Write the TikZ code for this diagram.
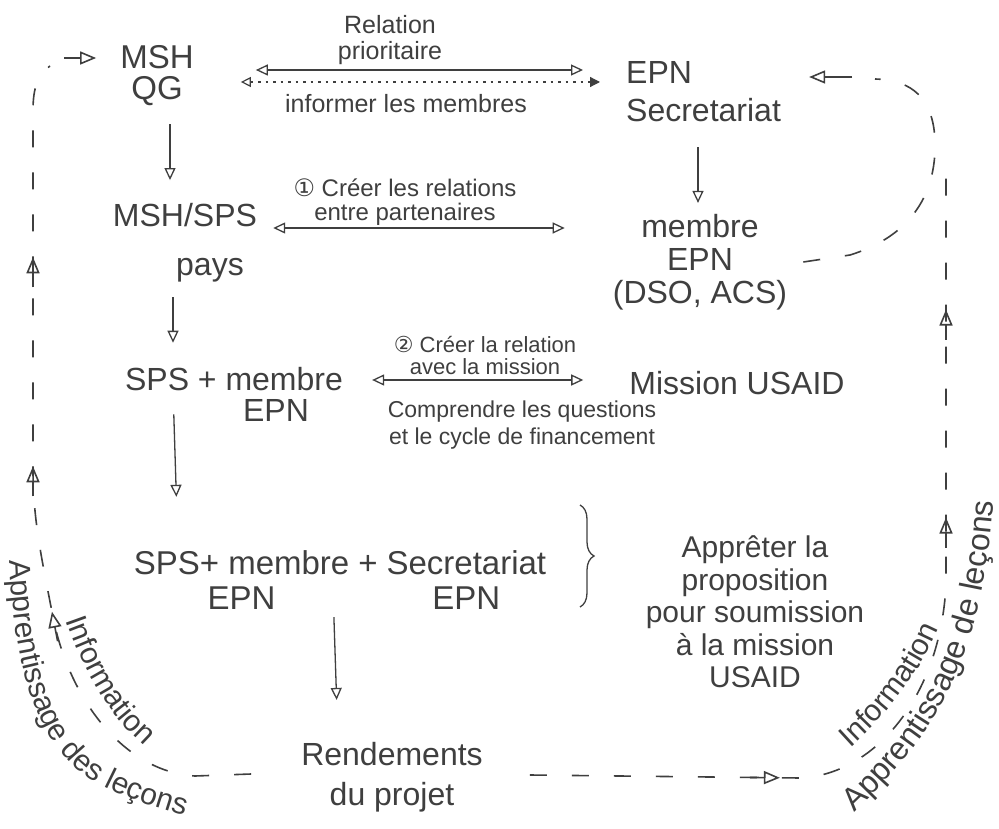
\documentclass[tikz,border=0pt]{standalone}
\usepackage{fontspec}
\setmainfont{Liberation Sans}
\newfontfamily\circfont{DejaVu Sans}
\usetikzlibrary{arrows.meta,calc,decorations.text,decorations.markings,decorations.pathreplacing}
\definecolor{ink}{HTML}{3F3F3F}
\tikzset{
  bigtxt/.style={text=ink,font=\fontsize{32}{34}\selectfont,align=center,inner sep=0pt},
  midtxt/.style={text=ink,font=\fontsize{25}{26}\selectfont,align=center,inner sep=0pt},
  smalltxt/.style={text=ink,font=\fontsize{22}{22}\selectfont,align=center,inner sep=0pt},
  onearrow/.style={draw=ink,line width=1.3pt,-{Triangle[open,length=12pt,width=11pt]}},
  twoarrow/.style={draw=ink,line width=1.3pt,{Triangle[open,length=12pt,width=11pt]}-{Triangle[open,length=12pt,width=11pt]}},
  dotarrow/.style={draw=ink,line width=1.2pt,dash pattern=on 2.5pt off 5pt,{Triangle[open,length=10pt,width=10pt]}-{Triangle[length=10pt,width=10pt]}},
  loopline/.style={draw=ink,line width=1.6pt,dash pattern=on 17pt off 25pt},
  loopstem/.style={draw=ink,line width=1.6pt,-{Triangle[open,length=16pt,width=13pt]}},
  midtip/.style={postaction={decorate,decoration={markings,mark=at position #1 with {\draw[solid,draw=ink,line width=1.6pt] (-30pt,0pt) -- (-15pt,0pt); \arrow[ink,line width=1.6pt]{Triangle[open,length=16pt,width=13pt]}}}}},
  curvetext/.style={decorate,decoration={text along path,text color=ink,text align=left,text={#1}}},
}
\begin{document}
\begin{tikzpicture}[x=1pt,y=-1pt]
\fill[white] (0,0) rectangle (999,829);
\useasboundingbox (0,0) rectangle (999,829);

% main nodes
\node[bigtxt,font=\fontsize{33}{31}\selectfont] (msh) at (157,76) {MSH\\QG};
\node[bigtxt] (mshsps) at (185,215) {MSH/SPS};
\node[bigtxt] (pays) at (210,270) {pays};
\node[bigtxt,font=\fontsize{32}{31}\selectfont] (spsm) at (234,394) {SPS + membre\\\hspace*{84pt}EPN};
\node[bigtxt,font=\fontsize{33}{35}\selectfont] (final) at (340,585) {\begin{tabular}{@{}c@{}c@{}c@{}}SPS+ membre & \hspace*{9pt}+\hspace*{9pt} & Secretariat\\ EPN & & EPN\end{tabular}};
\node[bigtxt,font=\fontsize{32}{40}\selectfont] (rend) at (392,777) {Rendements\\du projet};
\node[bigtxt,font=\fontsize{32}{38}\selectfont,align=left,anchor=west] (epn) at (626,92) {EPN\\Secretariat};
\node[bigtxt,font=\fontsize{32}{33}\selectfont] (membre) at (700,262) {membre\\EPN\\(DSO, ACS)};
\node[bigtxt] (mission) at (737,383) {Mission USAID};
\node[bigtxt,font=\fontsize{30}{32.5}\selectfont] (appr) at (755,612) {Apprêter la\\proposition\\pour soumission\\à la mission\\USAID};

% labels
\node[midtxt] (lrel) at (390,40) {Relation\\prioritaire};
\node[midtxt] (linf) at (406,104) {informer les membres};
\node[midtxt,font=\fontsize{24}{24}\selectfont] (lc1) at (405,202) {{\circfont ①} Créer les relations\\entre partenaires};
\node[smalltxt] (lc2) at (485,355) {{\circfont ②} Créer la relation\\avec la mission};
\node[smalltxt,font=\fontsize{23}{27}\selectfont] (lcomp) at (522,425) {Comprendre les questions\\et le cycle de financement};

% brace
\coordinate (bt) at (580,505);
\coordinate (bb) at (580,607);
\draw[ink,line width=1.3pt,decorate,decoration={brace,amplitude=14pt}] (bt) -- (bb);

% horizontal links
\draw[twoarrow,shorten <=62pt,shorten >=43pt] (msh.east |- 0,70) -- (epn.west |- 0,70);
\draw[dotarrow,shorten <=47pt,shorten >=26pt] (msh.east |- 0,82) -- (epn.west |- 0,82);
\draw[twoarrow,shorten <=16pt,shorten >=48pt] (mshsps.east |- 0,228) -- (membre.west |- 0,228);
\draw[twoarrow,shorten <=29pt,shorten >=46pt] (spsm.east |- 0,380) -- (mission.west |- 0,380);

% vertical links
\draw[onearrow,shorten <=18pt,shorten >=23pt] (msh.south -| 170,0) -- (mshsps.north -| 170,0);
\draw[onearrow,shorten <=25pt,shorten >=11pt] (epn.south -| 698,0) -- (membre.north -| 698,0);
\draw[onearrow,shorten <=15pt,shorten >=24pt] (pays.south -| 173,0) -- (spsm.north -| 173,0);
\draw[onearrow,shorten <=-7pt,shorten >=53pt] (spsm.south -| 174,0) -- (final.north -| 178,0);
\draw[onearrow,shorten <=-3pt,shorten >=42pt] (final.south -| 334,0) -- (rend.north -| 338,0);

% feedback loops
\coordinate (lstem) at (64,58);
\coordinate (tstem) at (852,77);
\coordinate (rtop) at (946,172);
\draw[loopline,midtip=290pt,midtip=437pt,midtip=646pt]
  ($(rend.west)+(-50,-3)$) -- (195,776) .. controls (125,772) and (68,700) .. (52,612)
  .. controls (42,560) and (33,520) .. (33,470) -- (33,110)
  .. controls (33,88) and (38,74) .. (50,66);
\draw[loopstem,shorten >=24pt] (lstem) -- (msh.west |- lstem);
\draw[loopline,midtip=250pt,midtip=602pt,midtip=810pt]
  ($(rend.east)+(47,-2)$) -- (800,778) .. controls (872,775) and (940,700) .. (946,585) -- (rtop);
\draw[loopline]
  ($(membre.east)+(16,0)$) -- (850,255) .. controls (905,238) and (937,200) .. (935,140)
  .. controls (933,98) and (912,80) .. (875,79);
\draw[loopstem,shorten >=28pt] (tstem) -- (epn.east |- tstem);

% curved texts
\path[curvetext={|\fontsize{30}{30}\selectfont|Apprentissage des leçons}]
  (10,560) .. controls (14,680) and (42,748) .. (92,780) .. controls (132,802) and (172,814) .. (240,830);
\path[curvetext={|\fontsize{30}{30}\selectfont|Information}]
  (66,620) .. controls (90,688) and (120,735) .. (182,774);
\path[curvetext={|\fontsize{30}{30}\selectfont|Information}]
  (850,748) .. controls (890,712) and (925,668) .. (948,606);
\path[curvetext={|\fontsize{32}{32}\selectfont|Apprentissage de leçons}]
  (854,812) .. controls (930,740) and (995,660) .. (995,440);
\end{tikzpicture}
\end{document}
